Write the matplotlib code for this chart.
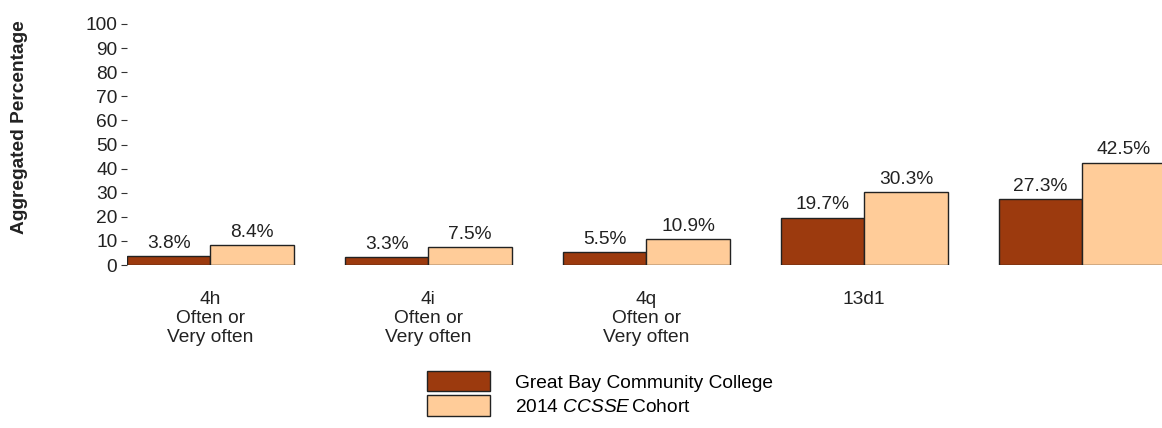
import numpy as np
import matplotlib
matplotlib.use('Agg')
import matplotlib.pyplot as plt
from matplotlib.patches import Patch

plt.rcParams['font.family'] = ['Liberation Sans', 'DejaVu Sans']
plt.rcParams['mathtext.fontset'] = 'custom'
plt.rcParams['mathtext.rm'] = 'Liberation Sans'
plt.rcParams['mathtext.it'] = 'Liberation Sans:italic'

categories = ['4h\nOften or\nVery often', '4i\nOften or\nVery often',
              '4q\nOften or\nVery often', '13d1', '']
college = [3.8, 3.3, 5.5, 19.7, 27.3]
cohort = [8.4, 7.5, 10.9, 30.3, 42.5]
series_names = ['Great Bay Community College', '2014 $\\mathit{CCSSE}\\,$Cohort']
yticks = list(range(0, 101, 10))

dark = '#9C3A0E'
light = '#FFCC99'
fs = 13.8

fig = plt.figure(figsize=(11.62, 4.28), dpi=100)
ax = fig.add_axes([127/1162, (428-265)/428, 1 - 127/1162, (265-24)/428])

x = np.arange(len(categories))
w = 0.383
ax.bar(x - w/2, college, w, color=dark, edgecolor='#222222', linewidth=1)
ax.bar(x + w/2, cohort, w, color=light, edgecolor='#222222', linewidth=1)

for xi, v in zip(x, college):
    ax.annotate(f'{v:.1f}%', (xi - w/2, v), xytext=(0, 3), textcoords='offset points',
                ha='center', va='bottom', fontsize=fs, color='#222222')
for xi, v in zip(x, cohort):
    ax.annotate(f'{v:.1f}%', (xi + w/2, v), xytext=(0, 3), textcoords='offset points',
                ha='center', va='bottom', fontsize=fs, color='#222222')

ax.set_xlim(-w, 4.367)
ax.set_ylim(0, 100)
ax.set_yticks(yticks)
ax.set_yticklabels([str(t) for t in yticks], fontsize=fs, color='#222222')
ax.tick_params(axis='y', length=4.5, width=0.8, pad=2.5, color='#333333')
ax.set_xticks(x)
ax.set_xticklabels(categories, fontsize=fs, color='#222222', linespacing=1.15, va='top')
ax.tick_params(axis='x', length=0, pad=19)
for s in ax.spines.values():
    s.set_visible(False)

fig.text(20/1162, 1 - 127/428, 'Aggregated Percentage', rotation=90, ha='center', va='center',
         fontsize=13.8, fontweight='bold', color='#222222')

handles = [Patch(facecolor=dark, edgecolor='#222222'), Patch(facecolor=light, edgecolor='#222222')]
fig.legend(handles, series_names, loc='upper left', bbox_to_anchor=(427/1162, 1 - 371/428),
           frameon=False, fontsize=fs, handlelength=3.3, handleheight=1.25,
           handletextpad=1.3, labelspacing=0.2, borderpad=0, borderaxespad=0)

fig.savefig('out.png', dpi=100)
